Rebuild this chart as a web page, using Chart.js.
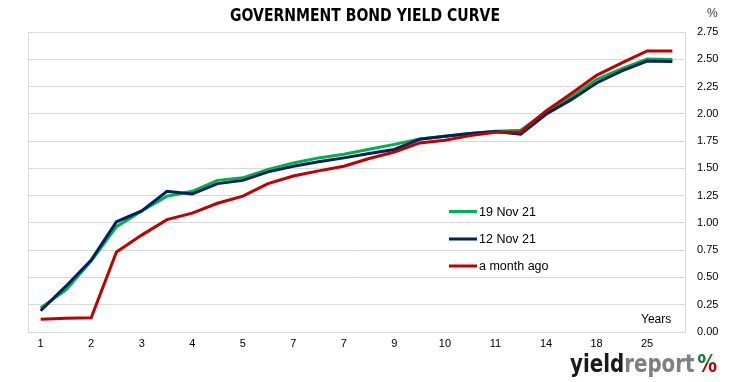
<!DOCTYPE html>
<html>
<head>
<meta charset="utf-8">
<script src="https://cdn.jsdelivr.net/npm/chart.js@4.4.1/dist/chart.umd.min.js"></script>
<style>
  html, body { margin: 0; padding: 0; background: #fff; }
  #wrap { width: 731px; height: 382px; position: relative; }
</style>
</head>
<body>
<div id="wrap"><canvas id="curva"></canvas></div>
<script>
// Plazos (26 categorias, solo se rotula una de cada dos)
const plazos = ['1', '1.5', '2', '2.5', '3', '3.5', '4', '4.5', '5', '6', '7', '7', '7',
  '8', '9', '9', '10', '10', '11', '12', '14', '15', '18', '20', '25', '30'];
const etiquetasVisibles = ['1', '2', '3', '4', '5', '7', '7', '9', '10', '11', '14', '18', '25'];

const nov19 = [0.22, 0.385, 0.65, 0.965, 1.11, 1.245, 1.29, 1.39, 1.413, 1.49, 1.55, 1.596, 1.63,
  1.675, 1.72, 1.77, 1.795, 1.82, 1.84, 1.85, 2.017, 2.155, 2.314, 2.415, 2.503, 2.497];
const nov12 = [0.195, 0.42, 0.66, 1.01, 1.11, 1.29, 1.265, 1.36, 1.39, 1.468, 1.52, 1.56, 1.596,
  1.636, 1.673, 1.767, 1.795, 1.82, 1.838, 1.813, 1.996, 2.13, 2.283, 2.393, 2.484, 2.479];
const mesAtras = [0.116, 0.125, 0.13, 0.733, 0.888, 1.03, 1.09, 1.18, 1.245, 1.36, 1.43, 1.477, 1.52,
  1.59, 1.65, 1.733, 1.758, 1.80, 1.83, 1.834, 2.026, 2.186, 2.353, 2.467, 2.576, 2.576];

const nombres = ['19 Nov 21', '12 Nov 21', 'a month ago'];
const colores = ['#00b050', '#002060', '#c00000'];

const fuente = "'Liberation Sans Narrow', 'DejaVu Sans Condensed', 'Liberation Sans', sans-serif";

// Texto ajustado a un ancho dado (escala horizontal)
function textoAjustado(c, txt, x, y, ancho) {
  const w = c.measureText(txt).width;
  c.save();
  c.translate(x, y);
  c.scale(ancho / w, 1);
  c.fillText(txt, 0, 0);
  c.restore();
}

// Marco, titulo, leyenda y logo
const extras = {
  id: 'extras',
  beforeDatasetsDraw(chart) {
    const a = chart.chartArea, c = chart.ctx;
    c.save();
    c.strokeStyle = '#d9d9d9';
    c.lineWidth = 1;
    c.strokeRect(a.left + 0.5, a.top + 0.5, a.right - a.left, a.bottom - a.top);
    c.restore();
  },
  afterDraw(chart) {
    const c = chart.ctx;
    c.save();
    // titulo
    c.fillStyle = '#000';
    c.font = "bold 17px " + fuente;
    c.textAlign = 'left';
    c.textBaseline = 'middle';
    textoAjustado(c, 'GOVERNMENT BOND YIELD CURVE', 230, 17, 270);
    // unidades
    c.font = "12px 'Liberation Sans', sans-serif";
    c.fillStyle = '#404040';
    c.fillText('%', 707, 14);
    c.fillStyle = '#000';
    c.fillText('Years', 641, 320);
    // leyenda
    const filas = [211.5, 239, 266];
    chart.data.datasets.forEach((ds, i) => {
      c.strokeStyle = ds.borderColor;
      c.lineWidth = 3;
      c.beginPath();
      c.moveTo(449, filas[i]);
      c.lineTo(477, filas[i]);
      c.stroke();
      c.fillStyle = '#000';
      c.font = "12.5px 'Liberation Sans', sans-serif";
      c.fillText(ds.label, 479, filas[i] + 1);
    });
    // logo
    c.font = "bold 25px " + fuente;
    c.textBaseline = 'alphabetic';
    const wY = c.measureText('yield').width;
    const wR = c.measureText('report').width;
    const wP = c.measureText('%').width;
    const k = 147 / (wY + wR + wP + 3);
    c.translate(570, 372);
    c.scale(k, 1);
    c.fillStyle = '#1a1a1a';
    c.fillText('yield', 0, 0);
    c.fillStyle = '#7f7f7f';
    c.fillText('report', wY, 0);
    const g = c.createLinearGradient(0, -20, 0, 0);
    g.addColorStop(0, '#1e7b3a');
    g.addColorStop(0.55, '#1e7b3a');
    g.addColorStop(0.55, '#c00000');
    g.addColorStop(1, '#c00000');
    c.fillStyle = g;
    c.fillText('%', wY + wR + 3, 0);
    c.restore();
  }
};

const series = [nov19, nov12, mesAtras];
new Chart(document.getElementById('curva'), {
  type: 'line',
  data: {
    labels: plazos,
    datasets: series.map((d, i) => ({
      label: nombres[i],
      data: d,
      borderColor: colores[i],
      backgroundColor: colores[i],
      borderWidth: 3,
      pointRadius: 0,
      tension: 0,
      fill: false,
      order: 3 - i
    }))
  },
  options: {
    responsive: true,
    maintainAspectRatio: false,
    animation: false,
    layout: {padding: {top: 32, left: 28, right: 0, bottom: 0}},
    plugins: {
      legend: {display: false},
      tooltip: {enabled: false}
    },
    scales: {
      x: {
        offset: true,
        grid: {display: false, drawTicks: false},
        border: {display: false},
        ticks: {
          autoSkip: false,
          maxRotation: 0,
          padding: 5,
          color: '#000',
          font: {family: "'Liberation Sans', sans-serif", size: 11},
          callback: (v, i) => (i % 2 === 0 ? etiquetasVisibles[i / 2] : '')
        },
        afterFit: s => { s.height = 50; }
      },
      y: {
        position: 'right',
        min: 0,
        max: 2.75,
        grid: {color: '#d9d9d9', drawTicks: false},
        border: {display: false},
        ticks: {
          stepSize: 0.25,
          padding: 12,
          color: '#000',
          font: {family: "'Liberation Sans', sans-serif", size: 11},
          callback: v => v.toFixed(2)
        },
        afterFit: s => { s.width = 46; }
      }
    }
  },
  plugins: [extras]
});
</script>
</body>
</html>
